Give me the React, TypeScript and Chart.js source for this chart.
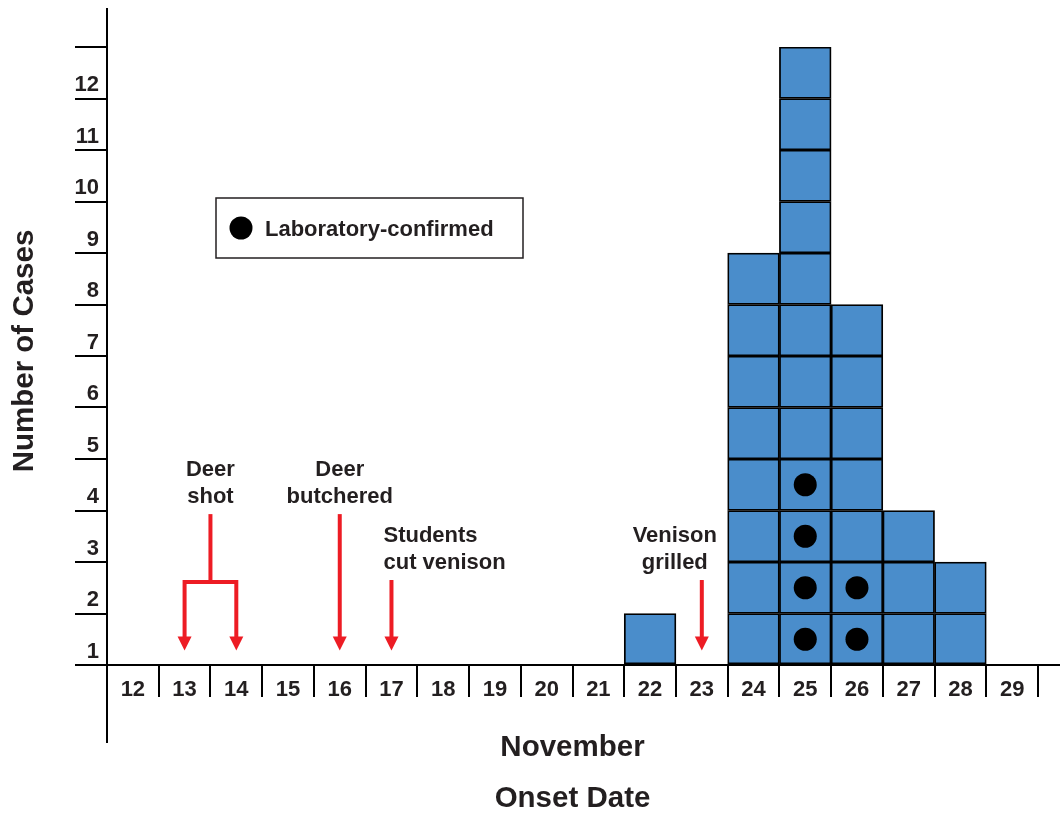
import { useEffect, useRef } from 'react';
import { Chart, registerables } from 'chart.js';

Chart.register(...registerables);

// ---- data ----
const dates = ['12', '13', '14', '15', '16', '17', '18', '19', '20', '21', '22', '23', '24', '25', '26', '27', '28', '29'];
const cases = [0, 0, 0, 0, 0, 0, 0, 0, 0, 0, 1, 0, 8, 12, 7, 3, 2, 0];
const confirmed = [0, 0, 0, 0, 0, 0, 0, 0, 0, 0, 0, 0, 0, 4, 2, 0, 0, 0];
const yTickLabels = ['1', '2', '3', '4', '5', '6', '7', '8', '9', '10', '11', '12'];
const eventDates = [['13', '14'], ['16'], ['17'], ['23']];
const eventLabels = [['Deer', 'shot'], ['Deer', 'butchered'], ['Students', 'cut venison'], ['Venison', 'grilled']];
const legendLabel = 'Laboratory-confirmed';
const xTitle = ['November', 'Onset Date'];
const yTitle = 'Number of Cases';

// ---- style ----
const FONT = '"Liberation Sans", Arial, Helvetica, sans-serif';
const TEXT = '#231f20';
const BLUE = '#4a8dcb';
const RED = '#ed1c24';
const SMALL = 22;
const BIG = 29.5;
const EVENT_TOP = [2.93, 2.93, 1.65, 1.65];
const EVENT_ALIGN: CanvasTextAlign[] = ['center', 'center', 'left', 'center'];
const EVENT_DX = [0, 0, -8, -27];
const BRACKET_LEVEL = 1.61;
const ARROW_TIP = 0.28;
const DOT_R = 11.5;

const annotationPlugin = {
  id: 'epiAnnotations',
  afterDraw(chart: any) {
    const { ctx, chartArea, scales } = chart;
    const x = scales.x;
    const y = scales.y;
    ctx.save();

    // axis line extensions
    ctx.strokeStyle = '#000';
    ctx.lineWidth = 2;
    ctx.beginPath();
    ctx.moveTo(chartArea.left, 8);
    ctx.lineTo(chartArea.left, chartArea.top);
    ctx.moveTo(chartArea.left, chartArea.bottom);
    ctx.lineTo(chartArea.left, 743);
    ctx.moveTo(chartArea.right, chartArea.bottom);
    ctx.lineTo(chart.width, chartArea.bottom);
    ctx.stroke();

    // y title
    ctx.save();
    ctx.translate(33, 351);
    ctx.rotate(-Math.PI / 2);
    ctx.font = `bold ${BIG}px ${FONT}`;
    ctx.fillStyle = TEXT;
    ctx.textAlign = 'center';
    ctx.textBaseline = 'alphabetic';
    ctx.fillText(yTitle, 0, 0);
    ctx.restore();

    // legend
    const lx = chartArea.left + 109;
    const ly = chartArea.top + 151;
    ctx.strokeStyle = TEXT;
    ctx.lineWidth = 1.5;
    ctx.fillStyle = '#fff';
    ctx.fillRect(lx, ly, 307, 60);
    ctx.strokeRect(lx, ly, 307, 60);
    ctx.fillStyle = '#000';
    ctx.beginPath();
    ctx.arc(lx + 25, ly + 30, DOT_R, 0, Math.PI * 2);
    ctx.fill();
    ctx.fillStyle = TEXT;
    ctx.font = `bold ${SMALL}px ${FONT}`;
    ctx.textAlign = 'left';
    ctx.textBaseline = 'alphabetic';
    ctx.fillText(legendLabel, lx + 49, ly + 38);

    // events
    const labels = x.getLabels();
    const tipY = y.getPixelForValue(ARROW_TIP);
    const head = 14;
    const baseY = tipY - head + 1;
    ctx.lineWidth = 4;
    ctx.lineJoin = 'miter';
    ctx.lineCap = 'butt';
    const arrowHead = (px: number) => {
      ctx.beginPath();
      ctx.moveTo(px - 7, tipY - head);
      ctx.lineTo(px + 7, tipY - head);
      ctx.lineTo(px, tipY);
      ctx.closePath();
      ctx.fill();
    };
    eventDates.forEach((ds, i) => {
      const xs = ds.map((d) => x.getPixelForValue(labels.indexOf(d)));
      const first = xs[0];
      const last = xs[xs.length - 1];
      const topY = y.getPixelForValue(EVENT_TOP[i]);
      ctx.strokeStyle = RED;
      ctx.fillStyle = RED;
      if (xs.length === 1) {
        ctx.beginPath();
        ctx.moveTo(first, topY);
        ctx.lineTo(first, baseY);
        ctx.stroke();
        arrowHead(first);
      } else {
        const mid = (first + last) / 2;
        const barY = y.getPixelForValue(BRACKET_LEVEL);
        ctx.beginPath();
        ctx.moveTo(mid, topY);
        ctx.lineTo(mid, barY);
        ctx.stroke();
        ctx.beginPath();
        ctx.moveTo(first, baseY);
        ctx.lineTo(first, barY);
        ctx.lineTo(last, barY);
        ctx.lineTo(last, baseY);
        ctx.stroke();
        xs.forEach(arrowHead);
      }
      // label
      const lines = eventLabels[i];
      const align = EVENT_ALIGN[i];
      const tx = (align === 'center' ? (first + last) / 2 : first) + EVENT_DX[i];
      ctx.fillStyle = TEXT;
      ctx.font = `bold ${SMALL}px ${FONT}`;
      ctx.textAlign = align;
      ctx.textBaseline = 'alphabetic';
      lines.forEach((line, k) => {
        const by = topY - 11 - (lines.length - 1 - k) * 27;
        ctx.fillText(line, tx, by);
      });
    });

    ctx.restore();
  },
};

export default function App() {
  const canvasRef = useRef<HTMLCanvasElement | null>(null);

  useEffect(() => {
    if (!canvasRef.current) return;
    const maxCases = Math.max(...cases);
    const layers = Array.from({ length: maxCases }, (_, k) => ({
      type: 'bar' as const,
      label: `cases-${k + 1}`,
      data: cases.map((c) => (c > k ? [k, k + 1] : null)),
      backgroundColor: BLUE,
      borderColor: '#000',
      borderWidth: 1.8,
      borderSkipped: false,
      barPercentage: 1,
      categoryPercentage: 1,
      grouped: false,
      order: 2,
    }));
    const dots = {
      type: 'scatter' as const,
      label: legendLabel,
      data: confirmed.flatMap((n, i) => Array.from({ length: n }, (_, k) => ({ x: dates[i], y: k + 0.5 }))),
      pointRadius: DOT_R,
      pointHoverRadius: DOT_R,
      pointBackgroundColor: '#000',
      pointBorderWidth: 0,
      showLine: false,
      order: 0,
    };

    const chart = new Chart(canvasRef.current, {
      type: 'bar',
      data: { labels: dates, datasets: [...layers, dots] as any },
      plugins: [annotationPlugin],
      options: {
        responsive: false,
        animation: false,
        events: [],
        layout: { padding: { top: 47, right: 22, left: 0, bottom: 0 } },
        plugins: { legend: { display: false }, tooltip: { enabled: false } },
        scales: {
          x: {
            type: 'category',
            offset: true,
            grid: { offset: true, drawOnChartArea: false, drawTicks: true, tickLength: 32, color: '#000', lineWidth: 2 },
            border: { display: true, color: '#000', width: 2 },
            ticks: {
              font: { family: FONT, size: SMALL, weight: 'bold', lineHeight: 1.2 },
              color: TEXT,
              padding: -20.5,
              maxRotation: 0,
              autoSkip: false,
            },
            title: {
              display: true,
              text: xTitle,
              color: TEXT,
              font: { family: FONT, size: BIG, weight: 'bold', lineHeight: 1.72 },
              padding: { top: 0, bottom: -11 },
            },
            afterFit: (s: any) => {
              s.height = 148;
            },
          },
          y: {
            type: 'linear',
            min: 0,
            max: 12,
            grid: { drawOnChartArea: false, drawTicks: true, tickLength: 32, color: '#000', lineWidth: 2 },
            border: { display: true, color: '#000', width: 2 },
            ticks: {
              stepSize: 1,
              font: { family: FONT, size: SMALL, weight: 'bold', lineHeight: 1.2 },
              color: TEXT,
              padding: -24,
              labelOffset: -13.5,
              callback: (v: any) => yTickLabels[v] ?? '',
            },
            afterFit: (s: any) => {
              s.width = 107;
            },
          },
        },
      } as any,
    });
    return () => chart.destroy();
  }, []);

  return (
    <div style={{ position: 'fixed', left: 0, top: 0, width: 1060, height: 813, background: '#fff' }}>
      <canvas ref={canvasRef} width={1060} height={813} style={{ display: 'block' }} />
    </div>
  );
}
